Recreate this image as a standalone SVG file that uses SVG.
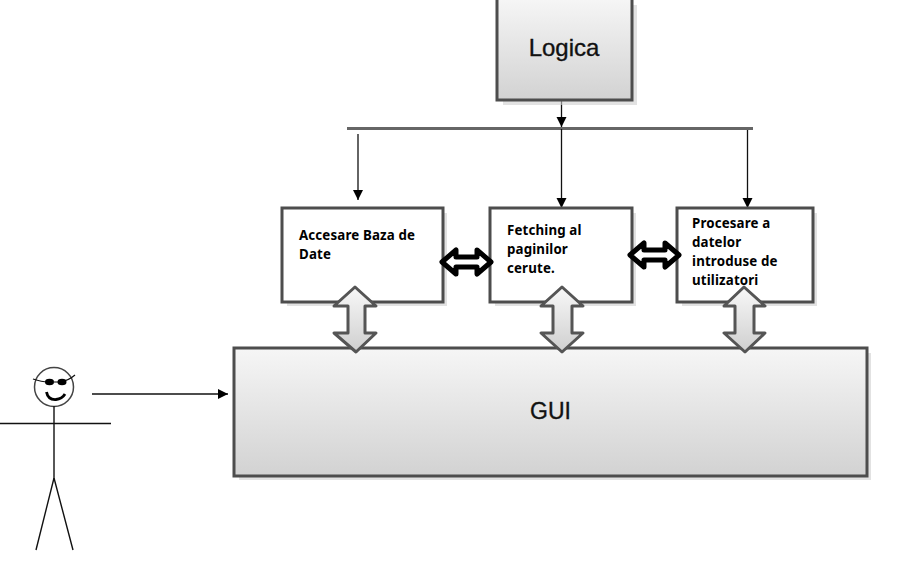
<svg xmlns="http://www.w3.org/2000/svg" width="913" height="579" viewBox="0 0 913 579">
<style>
.box{stroke:#4d4d4d;stroke-width:3}
.sh{fill:#cfcfcf;opacity:.6}
.ln{stroke:#111;stroke-width:1.300;fill:none}
.ah{fill:#000}
.big{font-family:"Liberation Sans",Arial,sans-serif;fill:#111;text-anchor:middle;stroke:#111;stroke-width:.35}
.t{font-family:"Noto Sans","Open Sans",sans-serif;font-weight:700;font-size:13.300px;letter-spacing:.15px;fill:#000}
.dbl{fill:url(#ga);stroke:#555;stroke-width:3;stroke-linejoin:round}
.blk{fill:#fff;stroke:#000;stroke-width:5;stroke-linejoin:round}
.fig{stroke:#111;stroke-width:1.400;fill:none}
</style>
<defs>
<linearGradient id="g" x1="0" y1="0" x2="0" y2="1"><stop offset="0" stop-color="#f6f6f6"/><stop offset="1" stop-color="#d2d2d2"/></linearGradient>
<linearGradient id="ga" x1="0" y1="0" x2="0" y2="1"><stop offset="0" stop-color="#f8f8f8"/><stop offset="1" stop-color="#cfcfcf"/></linearGradient>
<marker id="a" markerWidth="12" markerHeight="12" refX="10" refY="5" orient="auto" markerUnits="userSpaceOnUse"><path class="ah" d="M0 0L10 5L0 10Z"/></marker>
</defs>
<g id="connectors">
<path class="ln" d="M561.500 100V127" marker-end="url(#a)"/>
<path d="M347 128.500H753" stroke="#666" stroke-width="3" fill="none"/>
<path class="ln" d="M358 134V200" marker-end="url(#a)"/>
<path class="ln" d="M561.500 129V208" marker-end="url(#a)"/>
<path class="ln" d="M747.500 130V208" marker-end="url(#a)"/>
<path class="ln" d="M92 394H228" marker-end="url(#a)"/>
</g>
<g id="logica">
<rect class="sh" x="503" y="5" width="134" height="100"/>
<rect class="box" x="497" y="-2" width="135" height="102" fill="url(#g)"/>
<text class="big" x="564" y="56" font-size="24">Logica</text>
</g>
<g id="gui">
<rect class="sh" x="239" y="353" width="632" height="127"/>
<rect class="box" x="234" y="348" width="633" height="128" fill="url(#g)"/>
<text class="big" x="550.500" y="419" font-size="23">GUI</text>
</g>
<g id="accesare">
<rect class="sh" x="287" y="213" width="160" height="93"/>
<rect class="box" x="282" y="208" width="161" height="94" fill="#fff"/>
<text class="t"><tspan x="299" y="240">Accesare Baza de</tspan><tspan x="299" y="259">Date</tspan></text>
</g>
<g id="fetching">
<rect class="sh" x="495" y="213" width="141" height="93"/>
<rect class="box" x="490" y="208" width="142" height="94" fill="#fff"/>
<text class="t"><tspan x="507" y="235">Fetching al</tspan><tspan x="507" y="254">paginilor</tspan><tspan x="507" y="273">cerute.</tspan></text>
</g>
<g id="procesare">
<rect class="sh" x="682" y="213" width="135" height="93"/>
<rect class="box" x="677" y="208" width="136" height="94" fill="#fff"/>
<text class="t"><tspan x="692" y="228">Procesare a</tspan><tspan x="692" y="247">datelor</tspan><tspan x="692" y="266">introduse de</tspan><tspan x="692" y="285">utilizatori</tspan></text>
</g>
<g id="updown-arrows">
<path class="dbl" d="M355 287L376 306H365V333H376L356 352L334 333H348V306H334Z"/>
<path class="dbl" d="M562 287L583 306H572V333H583L562 352L541 333H553V306H541Z"/>
<path class="dbl" d="M744 287L765 306H754V333H765L745 352L724 333H735V306H724Z"/>
</g>
<g id="black-arrows">
<path class="blk" d="M442 262L456 250V257H477V250L491 262L477 274V267H456V274Z"/>
<path class="blk" d="M630 255L644 243V250H665V243L679 255L665 267V260H644V267Z"/>
</g>
<g id="person">
<circle cx="54" cy="387" r="19.500" fill="#fff" stroke="#444" stroke-width="1.500"/>
<path class="fig" d="M54 406V478M0 423.500H111M54 478L36 550M54 478L73 550"/>
<path d="M33 379Q42 382 48 382M60 382Q68 381 75 375" stroke="#111" stroke-width="1.200" fill="none"/>
<ellipse cx="49.500" cy="382" rx="4.500" ry="3.300" fill="#000"/>
<ellipse cx="62" cy="382" rx="4.500" ry="3.300" fill="#000"/>
<path d="M54 382H58" stroke="#000" stroke-width="1"/>
<path d="M46.500 392Q48 400 56 399.500Q62 399 65 394" stroke="#000" stroke-width="2.800" fill="none"/>
</g>
</svg>
